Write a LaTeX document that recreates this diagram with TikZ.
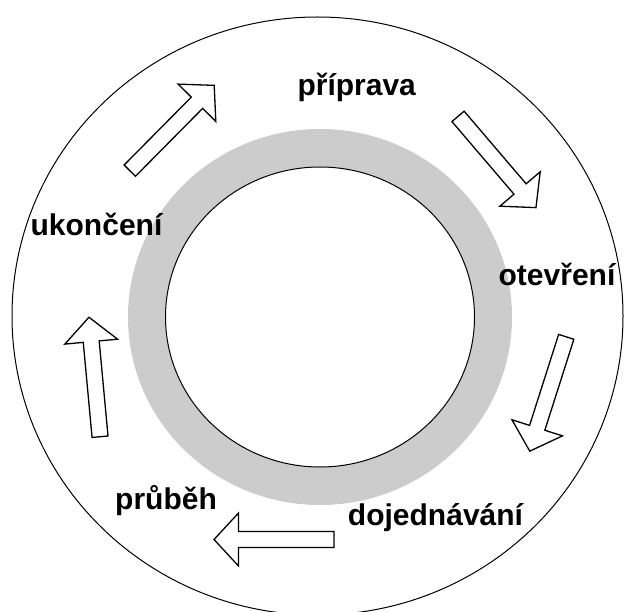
\documentclass[tikz,border=0pt]{standalone}
\usepackage{fontspec}
\setmainfont{Liberation Sans}
\definecolor{ringgray}{RGB}{204,204,204}
\begin{document}
\begin{tikzpicture}[x=1pt,y=1pt,
  phase/.style={font=\bfseries\fontsize{30}{36}\selectfont, anchor=base, inner sep=0pt},
  thinline/.style={draw=black, line width=1pt},
  arrowline/.style={draw=black, fill=white, line width=1.3pt, line join=miter},
  blockarrow/.pic={
    \path[arrowline] (-60,-8) -- (35.5,-8) -- (35.5,-26.5) -- (60,0)
      -- (35.5,26.5) -- (35.5,8) -- (-60,8) -- cycle;
  }]
  \useasboundingbox (0,0) rectangle (624,-612);

  % outer boundary
  \draw[thinline] (317.5,-316) ellipse [x radius=305.5, y radius=299];

  % grey ring around the inner circle
  \fill[ringgray] (320,-317) ellipse [x radius=192, y radius=188];
  \path[thinline, fill=white] (320,-317) ellipse [x radius=154.5, y radius=150];

  % phase labels
  \node[phase] (priprava)   at (356.7,-95.5) {příprava};
  \node[phase] (otevreni)   at (557,-286)    {otevření};
  \node[phase] (dojednani)  at (435.5,-525)  {dojednávání};
  \node[phase] (prubeh)     at (166,-509)    {průběh};
  \node[phase] (ukonceni)   at (96.5,-236)   {ukončení};

  % cycle arrows between the phases
  \pic[rotate=45.3]   at (172,-128)  {blockarrow};
  \pic[rotate=-49.5]  at (497,-162)  {blockarrow};
  \pic[rotate=-107.7] at (548,-394)  {blockarrow};
  \pic[rotate=180]    at (274,-539.5){blockarrow};
  \pic[rotate=95.3]   at (94.5,-377) {blockarrow};
\end{tikzpicture}
\end{document}
